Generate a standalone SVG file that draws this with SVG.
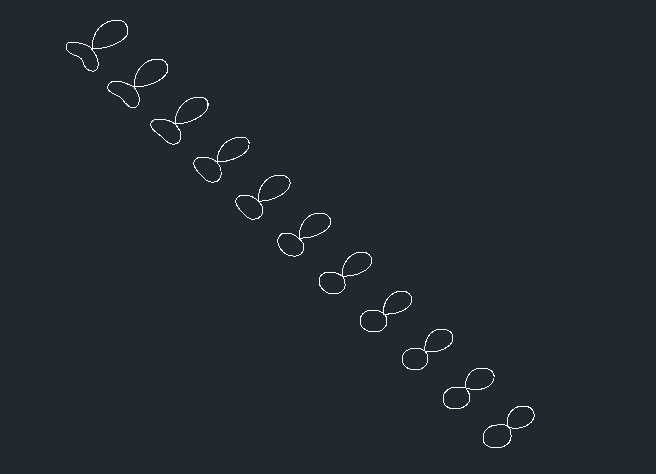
<svg xmlns="http://www.w3.org/2000/svg" width="656" height="474" viewBox="0 0 656 474">
<style>path{fill:none;stroke:#fff;stroke-width:1;shape-rendering:crispEdges}</style>
<rect width="656" height="474" fill="#212830"/>
<g id="s1"><path d="M92 49C92 31 103 20 118 20C124 20 128 25 128 32C127 41 108 49 92 49"/><path d="M83 44C77 42 69 41 67 44C65 47 66 50 70 53C75 56 80 56 82 60C84 65 86 71 92 71C97 72 99 67 98 62C98 57 95 53 91 48C89 46 86 45 83 44"/></g>
<g id="s2"><path d="M134 87C134 70 145 59 158 59C164 59 168 63 168 69C167 79 150 87 134 87"/><path d="M134 87C128 84 122 81 116 81C110 81 107 85 108 89C110 94 118 94 122 99C125 103 129 108 133 108C138 108 140 102 139 97C138 93 136 90 134 87"/></g>
<g id="s3"><path d="M175 124C175 108 186 97 200 97C205 97 209 101 208 106C207 115 190 124 175 124"/><path d="M175 124C170 120 163 119 158 119C153 119 150 122 151 126C152 131 158 133 162 137C165 140 168 144 172 144C178 145 181 141 181 135C181 131 178 128 175 124"/></g>
<g id="s4"><path d="M217 162C217 147 228 137 242 137C247 137 250 141 249 146C248 154 232 162 217 162"/><path d="M217 162C213 159 207 157 202 157C196 157 193 161 194 165C195 170 200 174 204 178C207 181 210 183 214 182C219 182 222 176 221 171C221 168 219 165 217 162"/></g>
<g id="s5"><path d="M258 201C258 185 268 175 280 175C286 175 291 179 290 184C289 193 272 202 258 201"/><path d="M258 201C254 197 249 195 244 195C238 195 235 199 236 203C237 208 242 212 245 215C248 218 252 220 255 219C260 219 263 214 263 209C263 206 260 203 258 201"/></g>
<g id="s6"><path d="M299 238C299 223 308 213 320 213C326 213 331 217 331 222C330 231 313 239 299 238"/><path d="M298 238C295 234 290 233 285 233C280 233 277 238 278 243C279 249 285 256 293 256C300 257 304 252 304 247C304 243 301 240 298 238"/></g>
<g id="s7"><path d="M342 276C342 262 351 252 362 252C368 252 372 256 372 261C371 270 356 277 342 276"/><path d="M342 276C338 273 334 272 329 272C323 272 319 276 319 281C319 288 326 294 334 294C341 294 346 289 345 284C345 281 344 278 342 276"/></g>
<g id="s8"><path d="M383 314C383 300 392 291 402 291C408 291 412 295 412 300C411 309 397 315 383 314"/><path d="M383 313C380 311 377 310 372 310C365 310 360 315 360 321C360 327 366 332 374 332C382 332 387 327 387 321C387 318 386 315 383 313"/></g>
<g id="s9"><path d="M425 351C424 338 432 329 441 329C449 329 453 333 453 339C452 347 438 354 425 351"/><path d="M425 351C422 349 420 348 416 348C408 348 402 353 402 359C402 365 408 370 415 370C423 370 428 365 428 358C428 355 427 353 425 351"/></g>
<g id="s10"><path d="M466 388C464 377 472 368 481 368C490 368 495 372 494 378C493 386 481 393 466 388"/><path d="M466 388C463 387 460 387 457 387C449 387 443 392 443 399C443 405 448 409 455 409C463 409 470 404 470 398C470 394 468 391 466 388"/></g>
<g id="s11"><path d="M508 427C505 415 513 406 523 406C531 406 535 411 534 417C532 425 520 431 508 427"/><path d="M508 426C505 424 502 425 497 425C489 425 483 431 483 438C483 445 489 448 496 448C504 448 512 443 511 435C511 431 510 428 508 426"/></g>
</svg>
